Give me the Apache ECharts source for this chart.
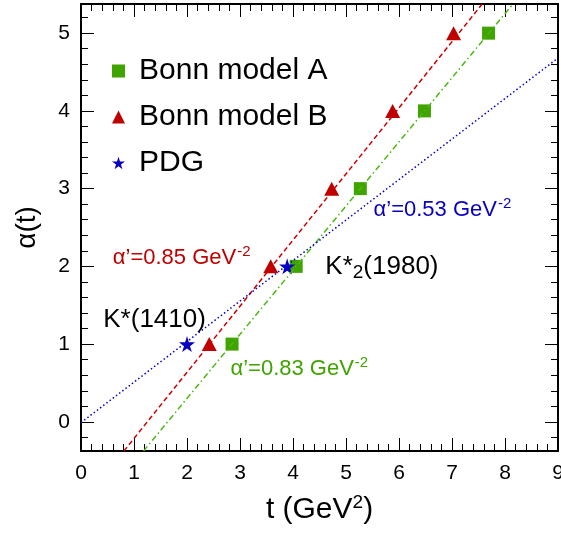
<!DOCTYPE html>
<html>
<head>
<meta charset="utf-8">
<script src="https://cdn.jsdelivr.net/npm/echarts@6/dist/echarts.min.js"></script>
<style>
  html, body { margin: 0; padding: 0; background: #fff; }
  #chart { width: 561px; height: 534px; }
</style>
</head>
<body>
<div id="chart"></div>
<script>
// data
var bonnA_t = [2.85, 4.06, 5.27, 6.48, 7.69];
var bonnA_alpha = [1, 2, 3, 4, 5];
var bonnB_t = [2.42, 3.58, 4.73, 5.88, 7.03];
var bonnB_alpha = [1, 2, 3, 4, 5];
var pdg_t = [2.0, 3.89];
var pdg_alpha = [1, 2];

// trajectory lines (end points)
var lineA_t = [1.18, 8.15];
var lineA_alpha = [-0.375, 5.375];
var lineB_t = [0.81, 7.57];
var lineB_alpha = [-0.375, 5.375];
var linePDG_t = [0, 9];
var linePDG_alpha = [-0.01, 4.68];

// ticks
var yMajor = [0, 1, 2, 3, 4, 5];
var yMinor = [-0.2, 0.2, 0.4, 0.6, 0.8, 1.2, 1.4, 1.6, 1.8, 2.2, 2.4, 2.6, 2.8,
              3.2, 3.4, 3.6, 3.8, 4.2, 4.4, 4.6, 4.8, 5.2];

var FONT = '"Liberation Sans", Arial, Helvetica, sans-serif';
var GREEN = '#3fa300';
var RED = '#bf0000';
var BLUE = '#0800c0';
var STAR = 'path://M50,0 L61,35 L98,35 L68,57 L79,91 L50,70 L21,91 L32,57 L2,35 L39,35 Z';

function pairs(xs, ys) {
  return xs.map(function (x, i) { return [x, ys[i]]; });
}

var chart = echarts.init(document.getElementById('chart'));

// x axes: bottom with labels, top only ticks
function xAx(pos, labels) {
  return {
    type: 'value', position: pos, min: 0, max: 9, interval: 1,
    name: labels ? 't (GeV{sup|2})' : '',
    nameLocation: 'middle', nameGap: 42,
    nameTextStyle: {
      fontFamily: FONT, fontSize: 30, color: '#000',
      rich: { sup: { fontSize: 19, color: '#000', verticalAlign: 'top', padding: [0, 0, 15, 0], fontFamily: FONT } }
    },
    axisLine: { show: true, onZero: false, lineStyle: { color: '#000', width: 2 } },
    axisTick: { show: true, inside: true, length: 13, lineStyle: { color: '#000', width: 1 } },
    minorTick: { show: true, splitNumber: 5, length: 7, lineStyle: { color: '#000', width: 1 } },
    axisLabel: { show: labels, margin: 12, alignMaxLabel: 'center', fontFamily: FONT, fontSize: 21, color: '#000' },
    splitLine: { show: false }
  };
}

// y axes: major and minor ticks split over two axes on each side
function yAx(pos, labels, ticks, len, line) {
  return {
    type: 'value', position: pos, min: -0.375, max: 5.375,
    name: labels ? 'α(t)' : '',
    nameLocation: 'middle', nameGap: 40, nameRotate: 90,
    nameTextStyle: { fontFamily: FONT, fontSize: 28, color: '#000' },
    axisLine: { show: line, onZero: false, lineStyle: { color: '#000', width: 2 } },
    axisTick: { show: true, inside: true, length: len, customValues: ticks, lineStyle: { color: '#000', width: 1 } },
    axisLabel: { show: labels, customValues: yMajor, margin: 11, fontFamily: FONT, fontSize: 21, color: '#000' },
    splitLine: { show: false }
  };
}

var annotations = [
  { text: 'α’=0.85 GeV{sup|-2}', t: 0.6, a: 2.11, color: RED, size: 22 },
  { text: 'α’=0.53 GeV{sup|-2}', t: 5.52, a: 2.73, color: BLUE, size: 22 },
  { text: 'α’=0.83 GeV{sup|-2}', t: 2.82, a: 0.68, color: GREEN, size: 22 },
  { text: 'K*(1410)', t: 0.42, a: 1.31, color: '#000', size: 26 },
  { text: 'K*{sub|2}(1980)', t: 4.61, a: 2.0, color: '#000', size: 26 }
];

var option = {
  animation: false,
  backgroundColor: '#fff',
  grid: { left: 81, right: 3, top: 4, bottom: 83, containLabel: false, outerBoundsMode: 'none' },
  xAxis: [xAx('bottom', true), xAx('top', false)],
  yAxis: [
    yAx('left', true, yMajor, 13, true),
    yAx('left', false, yMinor, 7, false),
    yAx('right', false, yMajor, 13, true),
    yAx('right', false, yMinor, 7, false)
  ],
  legend: {
    orient: 'vertical', left: 107, top: 51,
    itemWidth: 13, itemHeight: 13, itemGap: 16,
    textStyle: { fontFamily: FONT, fontSize: 30, color: '#000', lineHeight: 30, padding: [0, 0, 0, 9] },
    data: [
      { name: 'Bonn model A', icon: 'rect' },
      { name: 'Bonn model B', icon: 'triangle' },
      { name: 'PDG', icon: STAR }
    ]
  },
  series: [
    {
      name: 'lineA', type: 'line', data: pairs(lineA_t, lineA_alpha), showSymbol: false, silent: true,
      lineStyle: { color: '#4cb814', width: 1.5, type: [6, 3, 1.5, 3] }
    },
    {
      name: 'lineB', type: 'line', data: pairs(lineB_t, lineB_alpha), showSymbol: false, silent: true,
      lineStyle: { color: '#cc0000', width: 1.5, type: [5, 3] }
    },
    {
      name: 'linePDG', type: 'line', data: pairs(linePDG_t, linePDG_alpha), showSymbol: false, silent: true,
      lineStyle: { color: '#0000cc', width: 1.5, type: [1.5, 2.5] }
    },
    {
      name: 'Bonn model A', type: 'scatter', symbol: 'rect', symbolSize: 13,
      itemStyle: { color: GREEN, opacity: 1 }, data: pairs(bonnA_t, bonnA_alpha)
    },
    {
      name: 'Bonn model B', type: 'scatter', symbol: 'triangle', symbolSize: [15, 14],
      itemStyle: { color: RED, opacity: 1 }, data: pairs(bonnB_t, bonnB_alpha)
    },
    {
      name: 'PDG', type: 'scatter', symbol: STAR, symbolSize: 16,
      itemStyle: { color: BLUE, opacity: 1 }, data: pairs(pdg_t, pdg_alpha)
    },
    {
      name: 'notes', type: 'scatter', symbolSize: 0, silent: true,
      itemStyle: { opacity: 1 },
      data: annotations.map(function (n) {
        return {
          value: [n.t, n.a],
          label: {
            show: true, position: [0, 0], align: 'left', verticalAlign: 'middle',
            formatter: n.text, color: n.color, fontSize: n.size, fontFamily: FONT,
            rich: {
              sup: { fontSize: 15, color: n.color, verticalAlign: 'top', padding: [0, 0, 12, 1], fontFamily: FONT },
              sub: { fontSize: 19, color: n.color, verticalAlign: 'bottom', padding: [12, 0, 0, 0], fontFamily: FONT }
            }
          }
        };
      })
    }
  ]
};

chart.setOption(option);
</script>
</body>
</html>
